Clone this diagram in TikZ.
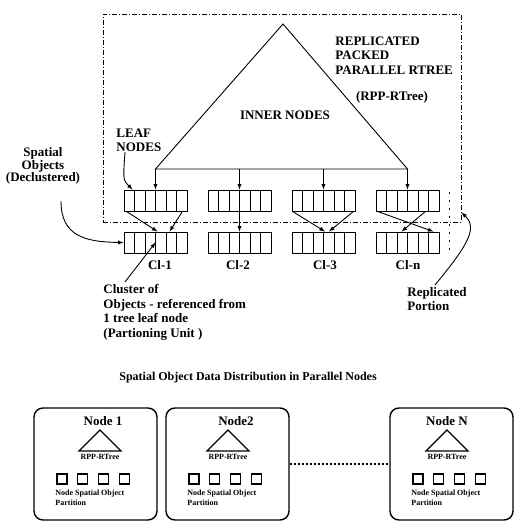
\documentclass[tikz,border=0pt]{standalone}
\usepackage{fontspec}
\setmainfont{Liberation Serif}
\usetikzlibrary{arrows, positioning}

\tikzset{
  cellbox/.style={draw, line width=0.9pt, minimum width=63pt, minimum height=21pt, inner sep=0pt,
    path picture={
      \foreach \k in {1,...,5}
        \draw ([xshift=\k*10.5pt]path picture bounding box.south west) -- ([xshift=\k*10.5pt]path picture bounding box.north west);
    }},
  lbl/.style={font=\fontsize{13}{14.5}\selectfont\bfseries, inner sep=0pt},
  tinylbl/.style={font=\fontsize{8}{10.5}\selectfont\bfseries, inner sep=0pt},
  nodebox/.style={draw, rounded corners=9pt, line width=1.4pt, minimum width=123pt, minimum height=112pt},
  dashdot/.style={line width=0.9pt, dash pattern=on 5pt off 2pt on 1pt off 2pt},
}

\begin{document}
\begin{tikzpicture}[x=1pt, y=-1pt, >=latex, line width=0.9pt]
        \useasboundingbox (0,0) rectangle (515,522);

        % Replizierter Bereich
        \node[dashdot, draw, minimum width=358pt, minimum height=208pt] (rep) at (282,118) {};
        \draw[line width=1pt, dash pattern=on 2pt off 6pt] (449,192) -- (449,254);

        % Baum
        \coordinate (apex) at (283,24);
        \coordinate (tl) at (155.5,169);
        \coordinate (tr) at (407.5,169);
        \draw (tl) -- (apex) -- (tr) -- cycle;

        % Blattknoten und Cluster
        \foreach \i/\x in {1/155.5, 2/239.5, 3/323.5, 4/407.5} {
            \node[cellbox] (t\i) at (\x,200.5) {};
            \node[cellbox] (b\i) at (\x,242.5) {};
            \draw[->] (t\i.north |- tl) -- (t\i.north);
        }
        \node[lbl] (c1) at (160,265) {Cl-1};
        \node[lbl] (c2) at (238,265) {Cl-2};
        \node[lbl] (c3) at (325,265) {Cl-3};
        \node[lbl] (c4) at (408,265) {Cl-n};

        % Verweise Blatt -> Cluster
        \draw[->] ([xshift=3pt]t1.south west) -- ([xshift=2pt]b1.north);
        \draw[->] ([xshift=-5pt]t1.south east) -- ([xshift=14pt]b1.north);
        \draw[->] (t2.south) -- (b2.north);
        \draw[->] ([xshift=1pt]t3.south west) -- ([xshift=1.5pt]b3.north);
        \draw[->] ([xshift=-2pt]t3.south east) -- ([xshift=5.5pt]b3.north);
        \draw[->] ([xshift=2pt]t4.south west) -- ([xshift=-6pt]b4.north east);
        \draw[->] ([xshift=-14pt]t4.south east) -- ([xshift=26pt]b4.north west);

        % Beschriftungen
        \node[lbl, align=left, anchor=north west] (rpp) at (335,36) {REPLICATED\\PACKED\\PARALLEL RTREE};
        \node[lbl] (rppshort) at (392,97) {(RPP-RTree)};
        \node[lbl] (inner) at (285,115) {INNER NODES};
        \node[lbl, align=left, anchor=north west] (leaf) at (116,128) {LEAF\\NODES};
        \node[lbl, align=center, font=\fontsize{13}{11.7}\selectfont\bfseries] (spo) at (43,166) {Spatial\\Objects\\(Declustered)};
        \node[lbl, align=left, anchor=north west] (cluster) at (103,284) {Cluster of\\Objects - referenced from\\1 tree leaf node\\(Partioning Unit )};
        \node[lbl, align=left, anchor=north west] (replp) at (407,287) {Replicated\\Portion};

        \draw[->] ([xshift=9pt]leaf.south west) .. controls (123,180) .. ([xshift=9pt]t1.north west);
        \draw[->] ([xshift=18pt,yshift=-16pt]spo.south) .. controls (61,236) and (85,242) .. (b1.west);
        \draw[->] ([xshift=22pt,yshift=2pt]cluster.north west) -- (b1.center);
        \draw[->] ([xshift=28pt,yshift=2pt]replp.north west) .. controls (468,245) and (478,228) .. ([yshift=10pt]rep.south east);

        % Verteilung auf Knoten
        \node[font=\fontsize{12}{14}\selectfont\bfseries] (title) at (248,378) {Spatial Object Data Distribution in Parallel Nodes};

        \foreach \nm/\L/\C/\T/\txt in {1/34/100/103/Node 1, 2/166/228/236/Node2, 3/390/447/447/Node N} {
            \node[nodebox] (n\nm) at (\L+61.5,464) {};
            \node[lbl] (nl\nm) at (\T,421) {\txt};
            \draw[line width=1.1pt] (\C,430) -- (\C+21,451) -- (\C-21,451) -- cycle;
            \node[tinylbl] (rt\nm) at (\C,457) {RPP-RTree};
            \foreach \k in {0,...,3}
                \draw[line width=1.2pt] (\L+23+\k*20.7,474) rectangle +(10,10);
            \node[tinylbl, align=left, anchor=north west] (pt\nm) at (\L+21,489) {Node Spatial Object\\Partition};
        }
        \draw[line width=1.2pt, dash pattern=on 2pt off 2pt] (n2.east) -- (n3.west);
\end{tikzpicture}
\end{document}
